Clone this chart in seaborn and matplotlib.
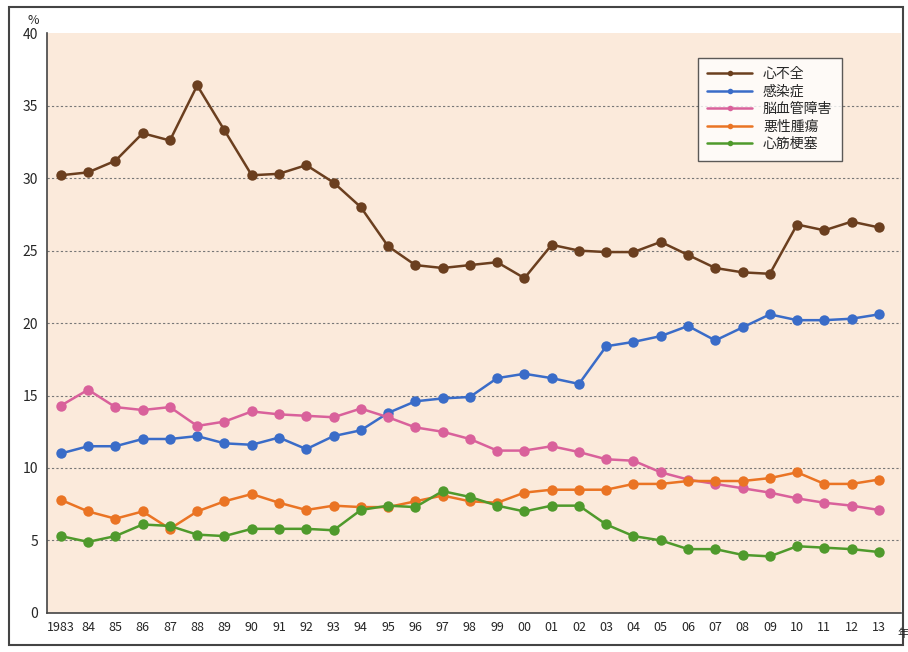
import numpy as np
import pandas as pd
import matplotlib
matplotlib.use("Agg")
import matplotlib.pyplot as plt
import seaborn as sns
from matplotlib.patches import Rectangle

# データ (1983-2013)
years = list(range(1983, 2014))
year_labels = ["1983"] + [f"{y % 100:02d}" for y in years[1:]]

heart_failure = [30.2, 30.4, 31.2, 33.1, 32.6, 36.4, 33.3, 30.2, 30.3, 30.9,
                 29.7, 28.0, 25.3, 24.0, 23.8, 24.0, 24.2, 23.1, 25.4, 25.0,
                 24.9, 24.9, 25.6, 24.7, 23.8, 23.5, 23.4, 26.8, 26.4, 27.0, 26.6]
infection = [11.0, 11.5, 11.5, 12.0, 12.0, 12.2, 11.7, 11.6, 12.1, 11.3,
             12.2, 12.6, 13.8, 14.6, 14.8, 14.9, 16.2, 16.5, 16.2, 15.8,
             18.4, 18.7, 19.1, 19.8, 18.8, 19.7, 20.6, 20.2, 20.2, 20.3, 20.6]
stroke = [14.3, 15.4, 14.2, 14.0, 14.2, 12.9, 13.2, 13.9, 13.7, 13.6,
          13.5, 14.1, 13.5, 12.8, 12.5, 12.0, 11.2, 11.2, 11.5, 11.1,
          10.6, 10.5, 9.7, 9.2, 8.9, 8.6, 8.3, 7.9, 7.6, 7.4, 7.1]
cancer = [7.8, 7.0, 6.5, 7.0, 5.8, 7.0, 7.7, 8.2, 7.6, 7.1,
          7.4, 7.3, 7.3, 7.7, 8.1, 7.7, 7.6, 8.3, 8.5, 8.5,
          8.5, 8.9, 8.9, 9.1, 9.1, 9.1, 9.3, 9.7, 8.9, 8.9, 9.2]
mi = [5.3, 4.9, 5.3, 6.1, 6.0, 5.4, 5.3, 5.8, 5.8, 5.8,
      5.7, 7.1, 7.4, 7.3, 8.4, 8.0, 7.4, 7.0, 7.4, 7.4,
      6.1, 5.3, 5.0, 4.4, 4.4, 4.0, 3.9, 4.6, 4.5, 4.4, 4.2]

names = ["心不全", "感染症", "脳血管障害", "悪性腫瘍", "心筋梗塞"]
colors = ["#6b3f1f", "#3a6cc8", "#d9619b", "#ea7424", "#4f9a2c"]

df = pd.concat([
    pd.DataFrame({"year": years, "value": vals, "cause": name})
    for name, vals in zip(names, [heart_failure, infection, stroke, cancer, mi])
])

sns.set_style("white")
plt.rcParams["font.family"] = ["Noto Sans CJK JP", "DejaVu Sans"]

fig = plt.figure(figsize=(9.08, 6.52), dpi=100)
ax = fig.add_axes([0.052, 0.06, 0.94, 0.889])
ax.set_facecolor("#fbeadb")

sns.lineplot(data=df, x="year", y="value", hue="cause", hue_order=names,
             palette=colors, marker="o", markersize=7.5, markeredgewidth=0,
             linewidth=1.8, ax=ax)

ax.set_ylim(0, 40)
ax.set_xlim(1982.5, 2013.8)
ax.set_yticks(range(0, 41, 5))
ax.set_xticks(years)
ax.set_xticklabels(year_labels, fontsize=9)
ax.tick_params(axis="y", labelsize=10, length=3, color="#444")
ax.tick_params(axis="x", length=3, color="#444", direction="in", pad=6)
for y in range(5, 40, 5):
    ax.axhline(y, color="#777", linestyle=(0, (2, 2)), linewidth=0.8, zorder=0)

ax.set_xlabel("")
ax.set_ylabel("")
for s in ["top", "right"]:
    ax.spines[s].set_visible(False)
for s in ["left", "bottom"]:
    ax.spines[s].set_color("#444")
    ax.spines[s].set_linewidth(1.2)

fig.text(0.037, 0.958, "%", fontsize=9, ha="center", va="bottom")
fig.text(0.988, 0.02, "年", fontsize=8, ha="left", va="bottom")

leg = ax.legend(loc="upper left", bbox_to_anchor=(0.754, 0.97), fontsize=10,
                frameon=True, fancybox=False, edgecolor="#333",
                handlelength=3.2, borderpad=0.7, labelspacing=0.25,
                handletextpad=0.8)
leg.get_frame().set_linewidth(1.0)
for line in leg.get_lines():
    line.set_markersize(4)

fig.patches.append(Rectangle((0.01, 0.01), 0.985, 0.98, transform=fig.transFigure,
                             fill=False, edgecolor="#444", linewidth=1.5))

fig.savefig("out.png", dpi=100, facecolor="white")
